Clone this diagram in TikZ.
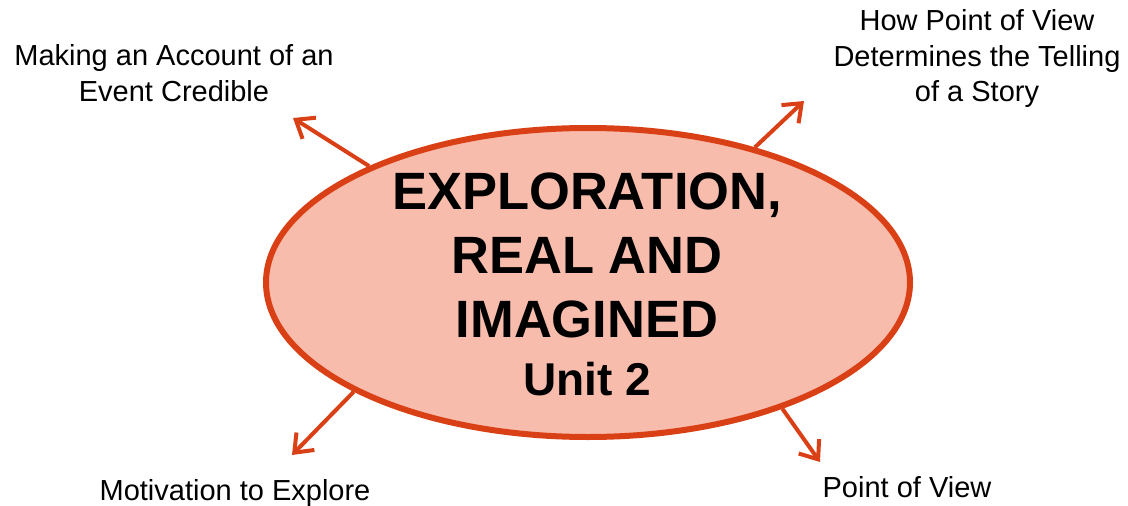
\documentclass[tikz,border=0pt]{standalone}
\usepackage{fontspec}
\setmainfont{Liberation Sans}
\usetikzlibrary{arrows.meta,shapes.geometric}
\definecolor{rimred}{RGB}{218,64,22}
\definecolor{salmon}{RGB}{248,188,172}
\tikzset{
  hub/.style={ellipse, draw=rimred, fill=salmon, line width=6pt,
    minimum width=644pt, minimum height=309pt, inner sep=0pt},
  bigtxt/.style={anchor=base, font=\fontsize{52.5}{64}\selectfont\bfseries},
  unittxt/.style={anchor=base, font=\fontsize{46}{58}\selectfont\bfseries},
  lbl/.style={align=center, inner sep=0pt, font=\fontsize{29}{35.5}\selectfont},
  spoke/.style={draw=rimred, line width=4pt, -{Straight Barb[length=16pt,width=25pt]}}
}
\begin{document}
\begin{tikzpicture}[x=1pt,y=-1pt]
\useasboundingbox (0,0) rectangle (1128,506);
\node[hub] (e) at (588,282.5) {};
\node[bigtxt] (t1) at (587,209) {EXPLORATION,};
\node[bigtxt] (t2) at (587,273) {REAL AND};
\node[bigtxt] (t3) at (587,337) {IMAGINED};
\node[unittxt] (t4) at (587,395) {Unit 2};
\coordinate (tl) at (293,118);
\coordinate (tr) at (804,101);
\coordinate (bl) at (292,455);
\coordinate (br) at (820,462);
\draw[spoke] (e.152.2) -- (tl);
\draw[spoke] (e.39.4) -- (tr);
\draw[spoke] (e.205.6) -- (bl);
\draw[spoke] (e.327.1) -- (br);
\node[lbl] (l1) at (174,73) {Making an Account of an\\Event Credible};
\node[lbl] (l2) at (977,58.6) {How Point of View\\Determines the Telling\\of a Story};
\node[lbl, anchor=base] (l3) at (235,500) {Motivation to Explore};
\node[lbl, anchor=base] (l4) at (907,497) {Point of View};
\end{tikzpicture}
\end{document}
